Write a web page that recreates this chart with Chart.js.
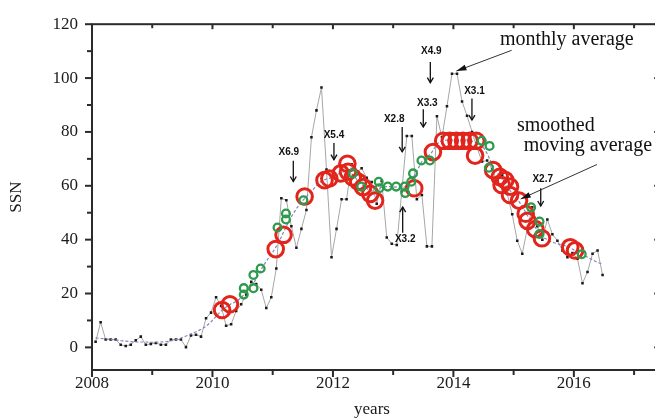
<!DOCTYPE html>
<html>
<head>
<meta charset="utf-8">
<title>SSN 2008-2016</title>
<script src="https://cdn.jsdelivr.net/npm/chart.js@4.4.1/dist/chart.umd.min.js"></script>
<style>
  html, body { margin: 0; padding: 0; background: #fff; overflow: hidden; }
  #wrap { width: 672px; height: 419px; }
</style>
</head>
<body>
<div id="wrap"><canvas id="ssnChart" width="672" height="419"></canvas></div>
<script>
// ---- Data ----
// monthly means, one value per month starting Feb 2008
const MONTH0 = 2008.06;
const monthly = [
  2.1, 9.3, 2.9, 2.9, 2.9, 1.0, 0.5, 1.0, 2.6, 4.0, 1.0, 1.3,
  1.6, 1.0, 1.0, 2.9, 2.9, 2.9, 0.1, 4.4, 4.7, 4.0, 10.8, 12.9,
  18.6, 15.4, 8.0, 8.6, 13.5, 16.0, 19.6, 24.4, 23.5, 21.4, 14.6, 18.6,
  29.3, 55.4, 54.6, 45.0, 37.0, 44.0, 51.0, 78.0, 88.0, 96.5,
  66.0, 33.5, 44.0, 55.0, 55.0, 68.0, 65.0, 66.5, 63.0, 61.4, 53.3, 61.8,
  40.8, 38.5, 38.0, 58.0, 78.5, 78.5, 55.0, 56.6, 37.5, 37.5, 85.8, 78.0,
  89.5, 101.6, 101.6, 91.3, 86.0, 80.0, 74.0, 69.0, 69.4, 66.0, 62.0, 64.0,
  57.0, 49.4, 39.6, 34.8, 44.0, 52.0, 45.0, 40.0, 47.5, 42.0, 39.6, 36.0,
  33.5, 35.0, 32.9, 23.8, 28.0, 34.8, 36.0, 26.9
];
// smoothed moving average on the same monthly grid
const smoothed = [
  3.5, 3.3, 3.2, 3.0, 2.8, 2.5, 2.3, 2.1, 2.0, 2.0, 2.0, 1.9,
  1.9, 2.0, 2.1, 2.4, 2.9, 3.5, 4.2, 5.0, 5.8, 6.7, 7.8, 9.5,
  11.5, 13.5, 15.0, 16.2, 17.0, 18.5, 20.5, 22.5, 25.5, 29.0, 32.0, 34.5,
  37.5, 41.0, 45.0, 48.5, 51.5, 54.0, 56.0, 58.0, 60.0, 61.8,
  62.5, 63.0, 64.0, 65.0, 65.5, 64.5, 62.5, 60.5, 59.0, 58.0, 58.5, 59.5,
  59.7, 59.7, 59.5, 59.0, 60.0, 62.0, 65.5, 69.0, 70.5, 72.5, 75.5, 76.7,
  77.0, 77.0, 77.0, 77.0, 77.0, 76.5, 76.0, 75.0, 72.0, 68.0, 65.0, 62.5,
  60.0, 57.0, 55.0, 52.5, 49.0, 46.0, 43.5, 41.0, 40.0, 39.0, 38.5, 38.0,
  37.5, 36.5, 35.5, 34.5, 33.5, 32.5, 31.5, 31.0
];

// large red markers
const redYears = [
  2010.16, 2010.29, 2011.05, 2011.18, 2011.53, 2011.86, 2011.94, 2012.13,
  2012.24, 2012.25, 2012.33, 2012.42, 2012.50, 2012.62, 2012.70, 2013.35,
  2013.66, 2013.83, 2013.94, 2014.05, 2014.16, 2014.27, 2014.38, 2014.36,
  2014.66, 2014.77, 2014.86, 2014.80, 2014.94, 2014.94, 2015.09, 2015.20,
  2015.23, 2015.36, 2015.47, 2015.94, 2016.02
];
const redSSN = [
  13.9, 16.0, 36.5, 41.8, 56.0, 62.1, 62.7, 64.6,
  68.2, 65.2, 63.1, 61.5, 59.5, 57.0, 54.5, 59.1,
  72.5, 76.7, 76.7, 76.7, 76.7, 76.7, 76.7, 71.2,
  65.8, 63.3, 62.1, 60.3, 59.7, 56.6, 54.5, 49.6,
  47.0, 43.9, 40.5, 37.2, 36.0
];

// small green markers
const greenYears = [
  2010.52, 2010.52, 2010.68, 2010.68, 2010.80, 2011.08, 2011.22, 2011.22,
  2011.51, 2012.33, 2012.47, 2012.76, 2012.77, 2012.91, 2013.05, 2013.19,
  2013.20, 2013.30, 2013.33, 2013.47, 2013.61, 2014.47, 2014.60, 2014.59,
  2015.29, 2015.43, 2015.43, 2016.13
];
const greenSSN = [
  19.6, 22.0, 22.0, 26.9, 29.3, 44.5, 47.5, 49.7,
  54.6, 64.6, 59.7, 61.5, 59.1, 59.7, 59.7, 59.7,
  57.3, 61.5, 64.6, 69.4, 69.4, 76.7, 74.8, 66.7,
  52.0, 46.7, 42.1, 34.6
];

// flare labels with their arrows
const flareNames = ['X6.9', 'X5.4', 'X2.8', 'X3.3', 'X4.9', 'X3.1', 'X3.2', 'X2.7'];
const flareYears = [2011.342, 2012.017, 2013.15, 2013.5, 2013.617, 2014.308, 2013.158, 2015.45];
const flareFrom = [69.3, 75.9, 81.8, 88.4, 106.0, 92.4, 42.6, 59.1];
const flareTo = [61.6, 69.7, 72.6, 81.8, 98.3, 84.4, 52.1, 52.5];
const flareTextYears = [2011.267, 2012.017, 2013.017, 2013.567, 2013.633, 2014.35, 2013.2, 2015.483];
const flareTextSSN = [72.3, 78.9, 84.7, 90.6, 110.0, 95.0, 40.0, 62.4];

const yearTicks = [2008, 2010, 2012, 2014, 2016];
const ssnTicks = [0, 20, 40, 60, 80, 100, 120];

const monthlyPts = monthly.map((v, i) => ({ x: MONTH0 + i / 12, y: v }));
const smoothedPts = smoothed.map((v, i) => ({ x: MONTH0 + i / 12, y: v }));
const redPts = redYears.map((t, i) => ({ x: t, y: redSSN[i] }));
const greenPts = greenYears.map((t, i) => ({ x: t, y: greenSSN[i] }));

const SERIF = '"Liberation Serif", "Times New Roman", serif';

function arrow(ctx, x0, y0, x1, y1, filled, head, wing) {
  const ang = Math.atan2(y1 - y0, x1 - x0);
  ctx.beginPath();
  ctx.moveTo(x0, y0);
  ctx.lineTo(x1, y1);
  ctx.stroke();
  const ax = x1 - head * Math.cos(ang), ay = y1 - head * Math.sin(ang);
  const nx = -Math.sin(ang) * wing, ny = Math.cos(ang) * wing;
  ctx.beginPath();
  ctx.moveTo(ax + nx, ay + ny);
  ctx.lineTo(x1, y1);
  ctx.lineTo(ax - nx, ay - ny);
  if (filled) { ctx.closePath(); ctx.fill(); } else ctx.stroke();
}

// ---- Frame, ticks and annotations ----
const decorations = {
  id: 'decorations',
  afterDatasetsDraw(chart) {
    const { ctx, scales: { x, y } } = chart;
    ctx.save();
    ctx.strokeStyle = '#111';
    ctx.fillStyle = '#111';
    ctx.lineWidth = 1.3;
    ctx.textAlign = 'center';
    ctx.textBaseline = 'middle';
    ctx.font = 'bold 10px "Liberation Sans", Arial, sans-serif';
    flareNames.forEach((name, k) => {
      const px = x.getPixelForValue(flareYears[k]);
      arrow(ctx, px, y.getPixelForValue(flareFrom[k]), px, y.getPixelForValue(flareTo[k]), false, 5, 3);
      ctx.fillText(name, x.getPixelForValue(flareTextYears[k]), y.getPixelForValue(flareTextSSN[k]));
    });

    ctx.font = '20px ' + SERIF;
    ctx.fillText('monthly average', x.getPixelForValue(2015.883), y.getPixelForValue(114.3));
    ctx.fillText('smoothed', x.getPixelForValue(2015.7), y.getPixelForValue(82.4));
    ctx.fillText('moving average', x.getPixelForValue(2016.233), y.getPixelForValue(74.7));
    ctx.lineWidth = 1;
    ctx.strokeStyle = '#333';
    ctx.fillStyle = '#111';
    arrow(ctx, x.getPixelForValue(2014.967), y.getPixelForValue(110.3),
      x.getPixelForValue(2014.05), y.getPixelForValue(102.6), true, 10, 3);
    arrow(ctx, x.getPixelForValue(2016.383), y.getPixelForValue(67.9),
      x.getPixelForValue(2015.117), y.getPixelForValue(55.1), true, 10, 3);
    ctx.restore();
  },
  afterDraw(chart) {
    const { ctx, chartArea: a, scales: { x, y } } = chart;
    ctx.save();
    ctx.strokeStyle = '#2b2b2b';
    ctx.lineWidth = 2;
    ctx.strokeRect(a.left, a.top, a.right - a.left, a.bottom - a.top);
    const seg = (x0, y0, x1, y1) => { ctx.beginPath(); ctx.moveTo(x0, y0); ctx.lineTo(x1, y1); ctx.stroke(); };
    for (let yr = 2008; yr <= 2017; yr++) {
      const px = x.getPixelForValue(yr);
      const major = yearTicks.includes(yr);
      seg(px, a.bottom, px, a.bottom + (major ? 7 : 5));
      seg(px, a.top, px, a.top + (major ? 5 : 4));
    }
    for (let v = 0; v <= 120; v += 10) {
      const py = y.getPixelForValue(v);
      const major = ssnTicks.includes(v);
      seg(a.left - (major ? 7 : 5), py, a.left, py);
      seg(a.right - (major ? 7 : 5), py, a.right, py);
    }
    // axis titles
    ctx.fillStyle = '#1a1a1a';
    ctx.font = '17px ' + SERIF;
    ctx.textAlign = 'center';
    ctx.textBaseline = 'middle';
    ctx.fillText('years', 372, 410);
    ctx.translate(17, (a.top + a.bottom) / 2);
    ctx.rotate(-Math.PI / 2);
    ctx.fillText('SSN', 0, 0);
    ctx.restore();
  }
};

new Chart(document.getElementById('ssnChart'), {
  type: 'scatter',
  data: {
    datasets: [
      {
        label: 'monthly average',
        data: monthlyPts,
        showLine: true,
        borderColor: '#a6a6a6',
        borderWidth: 1,
        pointStyle: 'rect',
        pointRadius: 1.8,
        pointBackgroundColor: '#1a1a1a',
        pointBorderWidth: 0,
        order: 4
      },
      {
        label: 'smoothed moving average',
        data: smoothedPts,
        showLine: true,
        borderColor: '#8287b4',
        borderWidth: 1.2,
        borderDash: [3, 2],
        pointRadius: 0,
        order: 3
      },
      {
        label: 'red',
        data: redPts,
        pointRadius: 7.8,
        pointBorderWidth: 3,
        pointBorderColor: '#e2251c',
        pointBackgroundColor: 'rgba(0,0,0,0)',
        order: 2
      },
      {
        label: 'green',
        data: greenPts,
        pointRadius: 3.9,
        pointBorderWidth: 2.3,
        pointBorderColor: '#2e9a4c',
        pointBackgroundColor: 'rgba(0,0,0,0)',
        order: 1
      }
    ]
  },
  options: {
    responsive: false,
    devicePixelRatio: 1,
    animation: false,
    layout: { padding: { top: 20, right: 9, left: 0, bottom: 0 } },
    plugins: { legend: { display: false }, tooltip: { enabled: false } },
    scales: {
      x: {
        type: 'linear',
        min: 2008,
        max: 2017.45,
        grid: { display: false, drawTicks: false },
        border: { display: false },
        afterBuildTicks: (s) => { s.ticks = yearTicks.map(v => ({ value: v })); },
        afterFit: (s) => { s.height = 49; },
        ticks: {
          padding: 3,
          color: '#1a1a1a',
          font: { family: SERIF, size: 17 },
          callback: (v) => String(v)
        }
      },
      y: {
        min: -8.4,
        max: 120,
        grid: { display: false, drawTicks: false },
        border: { display: false },
        afterBuildTicks: (s) => { s.ticks = ssnTicks.map(v => ({ value: v })); },
        afterFit: (s) => { s.width = 92; },
        ticks: {
          padding: 14,
          color: '#1a1a1a',
          font: { family: SERIF, size: 17 }
        }
      }
    }
  },
  plugins: [decorations]
});
</script>
</body>
</html>
